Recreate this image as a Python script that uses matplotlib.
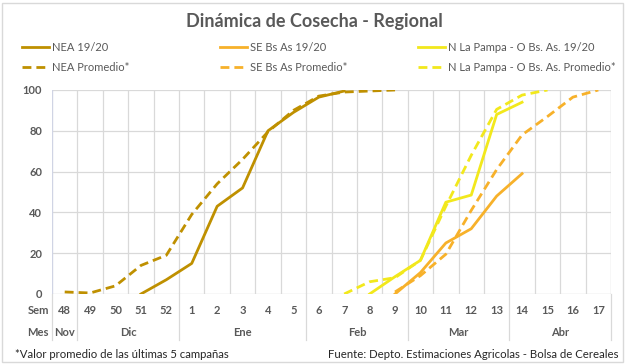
import numpy as np
import matplotlib
matplotlib.use("Agg")
import matplotlib.pyplot as plt
from matplotlib.patches import Rectangle

plt.rcParams["font.family"] = ["Lato", "DejaVu Sans"]

nan = np.nan

# semanas (eje x) y meses
weeks = ["48", "49", "50", "51", "52", "1", "2", "3", "4", "5", "6",
         "7", "8", "9", "10", "11", "12", "13", "14", "15", "16", "17"]
months = ["Nov", "Dic", "Ene", "Feb", "Mar", "Abr"]
month_span = [1, 4, 5, 4, 4, 4]  # semanas por mes

# % cosechado
nea_1920 = [nan, nan, nan, 0, 7, 15, 43, 52, 80, 89, 96.5, 99.5,
            nan, nan, nan, nan, nan, nan, nan, nan, nan, nan]
nea_prom = [1, 0.5, 4, 14, 19, 39, 54, 66, 79.5, 90, 97, 99,
            99.5, 100, nan, nan, nan, nan, nan, nan, nan, nan]
se_1920 = [nan, nan, nan, nan, nan, nan, nan, nan, nan, nan, nan, nan,
           nan, 0, 10.5, 25, 32, 48, 59, nan, nan, nan]
se_prom = [nan, nan, nan, nan, nan, nan, nan, nan, nan, nan, nan, nan,
           nan, 1, 9, 19.5, 41, 61, 78, 87, 96.5, 100]
nlp_1920 = [nan, nan, nan, nan, nan, nan, nan, nan, nan, nan, nan, nan,
            0, 8.5, 16.5, 45, 48.5, 88, 94, nan, nan, nan]
nlp_prom = [nan, nan, nan, nan, nan, nan, nan, nan, nan, nan, nan, 0,
            6, 8, 16.5, 43, 68, 90.5, 97.5, 100, nan, nan]

c_nea = "#BF9000"
c_se = "#F7B12A"
c_nlp = "#F2E81C"
grid_c = "#D9D9D9"
txt_c = "#595959"

fig = plt.figure(figsize=(6.28, 3.64), dpi=100)
ax = fig.add_axes([52 / 628, 70 / 364, 559 / 628, 204 / 364])

x = np.arange(len(weeks))
dash = (3.2, 1.8)
lw = 2.0
l1 = ax.plot(x, nea_1920, color=c_nea, lw=lw, solid_joinstyle="round", label="NEA 19/20")
l2 = ax.plot(x, nea_prom, color=c_nea, lw=lw, ls=(0, dash), label="NEA Promedio*")
l3 = ax.plot(x, se_1920, color=c_se, lw=lw, solid_joinstyle="round", label="SE Bs As 19/20")
l4 = ax.plot(x, se_prom, color=c_se, lw=lw, ls=(0, dash), label="SE Bs As Promedio*")
l5 = ax.plot(x, nlp_1920, color=c_nlp, lw=lw, solid_joinstyle="round",
             label="N La Pampa - O Bs. As. 19/20")
l6 = ax.plot(x, nlp_prom, color=c_nlp, lw=lw, ls=(0, dash),
             label="N La Pampa - O Bs. As. Promedio*")

ax.set_xlim(-0.5, len(weeks) - 0.5)
ax.set_ylim(0, 100)
ax.set_yticks(range(0, 101, 20))
ax.tick_params(axis="y", length=0, labelsize=8, colors=txt_c, pad=7)
for t in ax.get_yticklabels():
    t.set_fontweight("bold")
ax.set_xticks([])
for v in range(20, 101, 20):
    ax.axhline(v, color=grid_c, lw=0.9, zorder=0)
for b in np.arange(0.5, len(weeks) - 0.5):
    ax.axvline(b, color=grid_c, lw=0.9, zorder=0)
for s in ax.spines.values():
    s.set_visible(False)
ax.axhline(0, color=grid_c, lw=1.0, zorder=0)
ax.axvline(-0.5, color="#D0D4E4", lw=1.0, zorder=0)
ax.axvline(len(weeks) - 0.5, color=grid_c, lw=1.0, zorder=0)

# tabla inferior: semanas y meses
trans = ax.get_xaxis_transform()
y_sem = -17 / 204
y_mes = -38 / 204
ax.text(-0.62, y_sem, "Sem", transform=trans, ha="right", va="center", fontsize=8,
        color=txt_c, fontweight="bold")
ax.text(-0.62, y_mes, "Mes", transform=trans, ha="right", va="center", fontsize=8,
        color=txt_c, fontweight="bold")
for i, w in enumerate(weeks):
    ax.text(i, y_sem, w, transform=trans, ha="center", va="center", fontsize=8,
            color=txt_c, fontweight="bold")
start = 0
bounds = [-0.5]
for m, n in zip(months, month_span):
    ax.text(start + (n - 1) / 2, y_mes, m, transform=trans, ha="center", va="center",
            fontsize=8, color=txt_c, fontweight="bold")
    start += n
    bounds.append(start - 0.5)
for b in bounds:
    ax.plot([b, b], [0, -46 / 204], transform=trans, color=grid_c, lw=0.9, clip_on=False)

# titulo y leyenda (tres columnas)
fig.text(0.5, 1 - 22 / 364, "Dinámica de Cosecha - Regional", ha="center", va="center",
         fontsize=13, fontweight="bold", color=txt_c)
for handles, xpos in [((l1, l2), 22), ((l3, l4), 220), ((l5, l6), 418)]:
    hs = [h[0] for h in handles]
    fig.legend(hs, [h.get_label() for h in hs], loc="upper left",
               bbox_to_anchor=(xpos / 628, 1 - 42 / 364), ncol=1, frameon=False,
               fontsize=8, handlelength=2.45, handletextpad=0.25, borderpad=0,
               borderaxespad=0, labelspacing=0.8, labelcolor=txt_c)

fig.text(15 / 628, 9 / 364, "*Valor promedio de las últimas 5 campañas", ha="left",
         va="center", fontsize=8.2, color="#262626")
fig.text(618 / 628, 9 / 364, "Fuente: Depto. Estimaciones Agricolas - Bolsa de Cereales",
         ha="right", va="center", fontsize=8.2, color="#262626")

fig.patches.append(Rectangle((2 / 628, 2 / 364), 621 / 628, 359 / 364, transform=fig.transFigure,
                             fill=False, edgecolor=grid_c, lw=1.0))

fig.savefig("out.png", dpi=100)
